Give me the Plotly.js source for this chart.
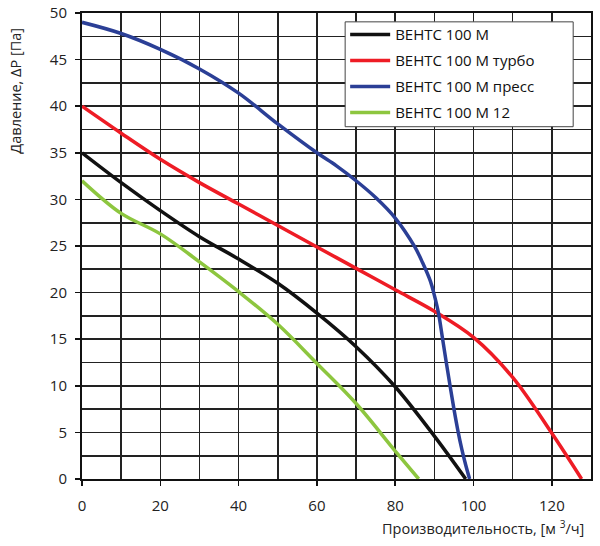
<!DOCTYPE html>
<html>
<head>
<meta charset="utf-8">
<script src="https://cdn.plot.ly/plotly-3.0.1.min.js"></script>
<style>
html,body{margin:0;padding:0;background:#fff;}
#chart{width:600px;height:546px;}
</style>
</head>
<body>
<div id="chart"></div>
<script>
// Series names
const seriesNames = ["ВЕНТС 100 М", "ВЕНТС 100 М турбо", "ВЕНТС 100 М пресс", "ВЕНТС 100 М 12"];

// ВЕНТС 100 М
const xBase = [0, 10, 20, 30, 40, 50, 60, 70, 80, 90, 98];
const yBase = [35, 31.8, 28.8, 26.0, 23.6, 21.0, 17.8, 14.2, 9.9, 4.6, 0];

// ВЕНТС 100 М турбо
const xTurbo = [0, 10, 20, 30, 40, 50, 60, 70, 80, 90, 100, 110, 120, 127.6];
const yTurbo = [40, 37.1, 34.3, 31.8, 29.5, 27.2, 24.9, 22.6, 20.3, 18.0, 15.2, 10.9, 4.9, 0];

// ВЕНТС 100 М пресс
const xPress = [0, 10, 20, 30, 40, 50, 60, 65, 70, 75, 80, 85, 87, 89, 90, 91, 92, 93, 94, 95, 96, 97, 98, 99];
const yPress = [49, 47.8, 46.1, 44.0, 41.4, 38.1, 35.0, 33.6, 32.0, 30.2, 28.0, 24.9, 23.2, 21.2, 19.7, 17.9, 15.3, 12.6, 10.0, 7.5, 5.2, 3.2, 1.5, 0];

// ВЕНТС 100 М 12
const x12 = [0, 10, 20, 30, 40, 50, 60, 70, 80, 86];
const y12 = [32, 28.5, 26.3, 23.3, 20.1, 16.6, 12.4, 8.1, 3.0, 0];

// Axis tick labels
const xTickVals = [0, 20, 40, 60, 80, 100, 120];
const yTickVals = [0, 5, 10, 15, 20, 25, 30, 35, 40, 45, 50];

const colors = ["#111111", "#ee1c25", "#2b3f96", "#8dc63f"];
const xs = [xBase, xTurbo, xPress, x12];
const ys = [yBase, yTurbo, yPress, y12];

const FONT = "Open Sans, Liberation Sans, Arial, sans-serif";

const traces = seriesNames.map((n, i) => ({
  type: "scatter",
  mode: "lines",
  name: n,
  legendgroup: "g" + i,
  x: xs[i],
  y: ys[i],
  line: {color: colors[i], width: 3.5, shape: "spline", smoothing: 1}
}));

const gridColor = "#222222";

const layout = {
  width: 600,
  height: 546,
  margin: {l: 82, r: 9, t: 13, b: 67},
  paper_bgcolor: "#ffffff",
  plot_bgcolor: "#ffffff",
  font: {family: FONT, size: 15, color: "#222"},
  showlegend: true,
  legend: {
    x: 0.517, y: 0.989, xanchor: "left", yanchor: "top",
    bgcolor: "rgba(0,0,0,0)", borderwidth: 0,
    font: {family: FONT, size: 15, color: "#111"},
    tracegroupgap: 3.5,
    traceorder: "grouped",
    itemwidth: 40
  },
  shapes: [
    {
      type: "rect", xref: "paper", yref: "paper",
      x0: 0.517, x1: 0.965, y0: 0.756, y1: 0.981,
      fillcolor: "#ffffff", line: {color: "#444", width: 1},
      layer: "above"
    }
  ],
  xaxis: {
    range: [0, 130],
    tickvals: xTickVals,
    ticktext: xTickVals.map(String),
    showgrid: true, gridcolor: gridColor, gridwidth: 1.6,
    minor: {dtick: 10, tick0: 0, showgrid: true, gridcolor: gridColor, gridwidth: 1.6, ticks: ""},
    showline: true, linecolor: "#111", linewidth: 2, mirror: true,
    ticks: "outside", ticklen: 5, tickwidth: 1.5, tickcolor: "#111",
    ticklabelstandoff: 7,
    zeroline: false,
    tickfont: {family: FONT, size: 15, color: "#222"}
  },
  yaxis: {
    range: [0, 50],
    tickvals: yTickVals,
    ticktext: yTickVals.map(String),
    showgrid: true, gridcolor: gridColor, gridwidth: 1.6,
    minor: {dtick: 2.5, tick0: 0, showgrid: true, gridcolor: gridColor, gridwidth: 1.6, ticks: ""},
    showline: true, linecolor: "#111", linewidth: 2, mirror: true,
    ticks: "outside", ticklen: 5, tickwidth: 1.5, tickcolor: "#111",
    ticklabelstandoff: 5,
    zeroline: false,
    tickfont: {family: FONT, size: 15, color: "#222"}
  },
  annotations: [
    {
      text: "Давление, ΔР [Па]",
      xref: "paper", yref: "paper",
      x: -0.131, y: 0.834,
      xanchor: "center", yanchor: "middle",
      textangle: -90, showarrow: false,
      font: {family: FONT, size: 14.5, color: "#222"}
    },
    {
      text: "Производительность, [м <sup>3</sup>/ч]",
      xref: "paper", yref: "paper",
      x: 0.99, y: -0.104,
      xanchor: "right", yanchor: "middle",
      showarrow: false,
      font: {family: FONT, size: 14.5, color: "#222"}
    }
  ]
};

Plotly.newPlot("chart", traces, layout, {displayModeBar: false, staticPlot: true});
</script>
</body>
</html>
